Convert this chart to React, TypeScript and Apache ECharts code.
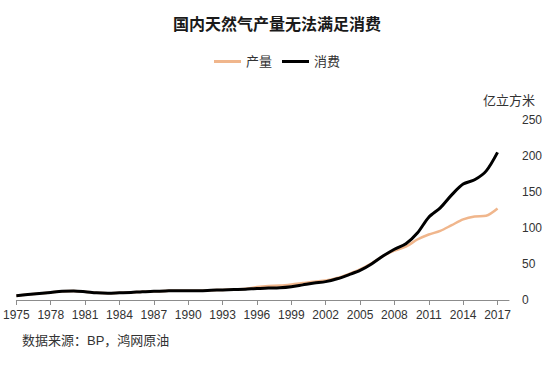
import React, { useEffect, useRef } from "react";
import * as echarts from "echarts";

const years: string[] = [];
for (let y = 1975; y <= 2018; y++) years.push(String(y));

// 1975 .. 2017 (2018 left empty so the axis runs slightly past the last point)
const production: (number | null)[] = [
  6, 7.5, 9, 10.5, 12, 12.5, 11.5, 10, 9.5, 10,
  10.5, 11.5, 12, 12.5, 13, 13, 13, 13.5, 14, 14.5,
  15.5, 18, 19.5, 20, 21.5, 23.5, 25.5, 27, 30.5, 36,
  42.5, 51, 61, 68.5, 74, 84, 91, 96, 104, 112,
  116, 117, 127, null,
];
const consumption: (number | null)[] = [
  6, 7.5, 9, 10.5, 12, 12.5, 11.5, 10, 9.5, 10,
  10.5, 11.5, 12, 12.5, 13, 13, 13, 13.5, 14, 14.5,
  15, 16, 16.5, 17, 18.5, 21, 23.5, 25.5, 29.5, 35,
  41, 50, 61, 70.5, 78, 93, 115, 128, 146, 161,
  167, 179, 205, null,
];
const yTicks = { min: 0, max: 250, interval: 50 };

const FONT = "'Liberation Sans', Arial, 'Noto Sans CJK SC', sans-serif";

export default function App() {
  const ref = useRef<HTMLDivElement>(null);
  useEffect(() => {
    if (!ref.current) return;
    const chart = echarts.init(ref.current, undefined, { renderer: "svg" });
    chart.setOption({
      animation: false,
      backgroundColor: "#ffffff",
      textStyle: { fontFamily: FONT },
      title: {
        text: "国内天然气产量无法满足消费",
        left: "center",
        top: 11,
        textStyle: { fontSize: 16, fontWeight: "bold", color: "#1a1a1a", fontFamily: FONT },
      },
      legend: {
        top: 50,
        left: "center",
        itemWidth: 27,
        itemHeight: 3,
        itemGap: 10,
        icon: "rect",
        textStyle: { fontSize: 13, color: "#333", fontFamily: FONT },
        data: ["产量", "消费"],
      },
      grid: { left: 14, right: 45, top: 120, bottom: 65, containLabel: false },
      xAxis: {
        type: "category",
        data: years,
        boundaryGap: false,
        axisLine: { lineStyle: { color: "#8c8c8c", width: 1 } },
        axisTick: { interval: 2, length: 5, lineStyle: { color: "#8c8c8c" } },
        axisLabel: { interval: 2, fontSize: 12, color: "#333", margin: 9, fontFamily: FONT },
        splitLine: { show: false },
      },
      yAxis: {
        type: "value",
        position: "right",
        min: yTicks.min,
        max: yTicks.max,
        interval: yTicks.interval,
        name: "亿立方米",
        nameLocation: "end",
        nameGap: 13,
        nameTextStyle: { fontSize: 13, color: "#333", fontFamily: FONT },
        axisLine: { show: false },
        axisTick: { show: false },
        splitLine: { show: false },
        axisLabel: { fontSize: 12, color: "#333", margin: 13, fontFamily: FONT },
      },
      series: [
        {
          name: "产量",
          type: "line",
          data: production,
          symbol: "none",
          smooth: 0.3,
          lineStyle: { color: "#F0B68C", width: 2.5 },
          itemStyle: { color: "#F0B68C" },
        },
        {
          name: "消费",
          type: "line",
          data: consumption,
          symbol: "none",
          smooth: 0.3,
          lineStyle: { color: "#000000", width: 3 },
          itemStyle: { color: "#000000" },
        },
      ],
      graphic: [
        {
          type: "text",
          left: 22,
          top: 334,
          style: { text: "数据来源：BP，鸿网原油", fontSize: 13, fill: "#333", fontFamily: FONT },
        },
      ],
    });
    return () => chart.dispose();
  }, []);
  return <div ref={ref} style={{ width: 554, height: 365, position: "absolute", left: 0, top: 0 }} />;
}
